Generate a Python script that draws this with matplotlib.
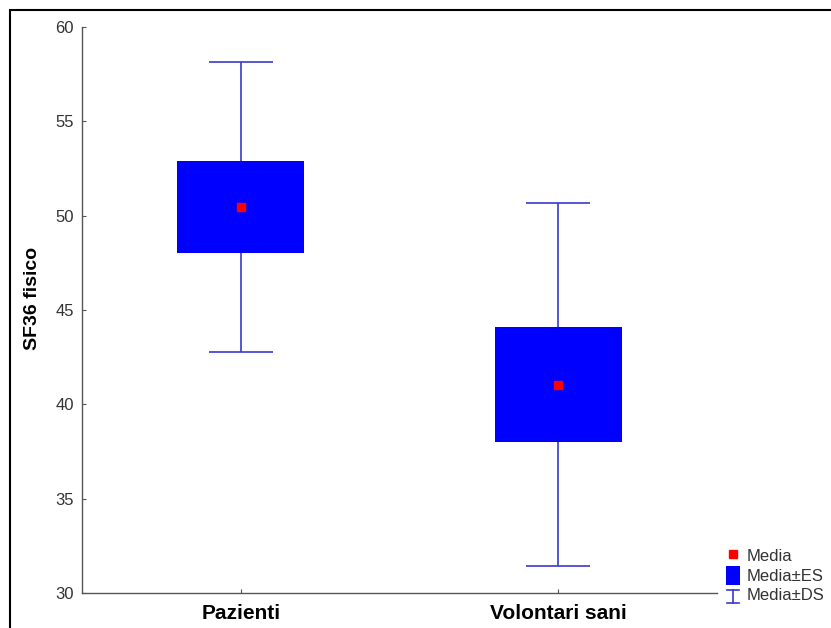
import matplotlib
matplotlib.use("Agg")
import matplotlib.pyplot as plt
from matplotlib.legend_handler import HandlerBase
from matplotlib.lines import Line2D
from matplotlib.patches import Patch, Rectangle

plt.rcParams["font.family"] = ["Liberation Sans", "DejaVu Sans"]

groups = ["Pazienti", "Volontari sani"]
means = [50.45, 41.05]
se = [2.45, 3.05]
sd = [7.7, 9.6]

BOX_BLUE = "#0000ff"
LINE_BLUE = "#3a3ad0"
AXIS_GREY = "#555555"


class WhiskerHandler(HandlerBase):
    # small "I" glyph standing for mean +- SD
    def create_artists(self, legend, orig_handle, xdescent, ydescent,
                       width, height, fontsize, trans):
        cx = width / 2 - xdescent
        y0 = -ydescent + height * 0.05
        y1 = -ydescent + height * 0.75
        half = width * 0.45
        kw = dict(color=LINE_BLUE, lw=1.2, transform=trans)
        return [
            Line2D([cx, cx], [y0, y1], **kw),
            Line2D([cx - half, cx + half], [y0, y0], **kw),
            Line2D([cx - half, cx + half], [y1, y1], **kw),
        ]


fig = plt.figure(figsize=(8.31, 6.28), dpi=100)
ax = fig.add_axes([82 / 831, 1 - 593 / 628, (717 - 82) / 831, (593 - 27) / 628])

xs = list(range(1, len(groups) + 1))
ax.errorbar(xs, means, yerr=sd, fmt="none", ecolor=LINE_BLUE, elinewidth=1.2,
            capsize=23, capthick=1.2, zorder=1)
ax.bar(xs, [2 * s for s in se], bottom=[m - s for m, s in zip(means, se)],
       width=0.4, color=BOX_BLUE, zorder=2)
ax.plot(xs, means, "s", color="#ff0000", markersize=6, zorder=3)

ax.set_xlim(0.5, 2.5)
ax.set_ylim(30, 60)
ax.set_yticks(range(30, 61, 5))
ax.set_xticks(xs)
ax.set_xticklabels(groups, fontsize=15, fontweight="bold")
ax.tick_params(axis="y", direction="in", length=3, width=0.8, color=AXIS_GREY,
               labelsize=12, labelcolor="#333333", pad=6)
ax.tick_params(axis="x", direction="in", length=3, width=0.8, color=AXIS_GREY, pad=8)
ax.set_ylabel("SF36 fisico", fontsize=14, fontweight="bold")
ax.yaxis.set_label_coords(-0.064, 0.52)

for side in ("top", "right"):
    ax.spines[side].set_visible(False)
for side in ("left", "bottom"):
    ax.spines[side].set_color(AXIS_GREY)
    ax.spines[side].set_linewidth(1.0)

media = Line2D([], [], marker="s", color="#ff0000", linestyle="none", markersize=6)
es_box = Patch(facecolor=BOX_BLUE, edgecolor="none")
ds_bar = Line2D([], [])
labels = ["Media", "Media\u00b1ES", "Media\u00b1DS"]
leg = fig.legend(
    [media, es_box, ds_bar], labels,
    handler_map={ds_bar: WhiskerHandler()},
    loc="lower left", bbox_to_anchor=(726 / 831, 1 - 604 / 628),
    frameon=False, fontsize=12, handlelength=0.85, handleheight=1.4,
    handletextpad=0.4, labelspacing=0.0, borderaxespad=0, borderpad=0,
)
for t in leg.get_texts():
    t.set_color("#333333")

fig.patches.append(Rectangle((10 / 831, -0.1), 1.2, 1 - 10 / 628 + 0.1,
                             transform=fig.transFigure, fill=False,
                             edgecolor="black", linewidth=1.5))

fig.savefig("out.png", dpi=100)
